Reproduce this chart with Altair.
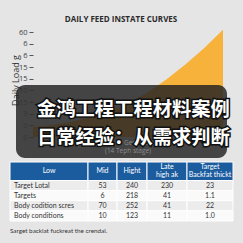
import json
import altair as alt
import pandas as pd

# ---------------- data ----------------
chart_title = "DAILY FEED INSTATE CURVES"
y_axis_title = "Daily Load g"
y_tick_labels_top_down = ["60", "6", "6", "15", "15", "10", "15", "9", "0", "0"]

curve_x = [0, 1, 2, 3, 4, 5, 6, 7, 8, 9, 10]
curve_load = [0.85, 1.0, 1.3, 1.7, 2.2, 2.9, 3.8, 4.9, 6.2, 7.6, 9.2]

overlay_line1 = "金鸿工程工程材料案例"
overlay_line2 = "日常经验：从需求判断"
x_axis_title = "Day of Gestation"
x_axis_sub = "(14 Teph stage)"

table_headers = [["Low"], ["Mid"], ["Hight"], ["Late", "high ak"], ["Target", "Backfat thickt"]]
row_labels = ["Target Lotal", "Targets", "Body codition scres", "Body conditions"]
mid_vals = ["53", "6", "70", "10"]
hight_vals = ["240", "218", "252", "123"]
late_vals = ["230", "41", "41", "11"]
target_vals = ["23", "1.1", "22", "1.0"]
footnote = "Sarget backlat fuckreat the crendal."

# ---------------- layout (pixels) ----------------
col_edges = [10, 88, 117, 147, 187, 233]
header_edges = [162, 180.5]
row_edges = [180.5, 190.6, 200.7, 210.8, 221]
BG = "#e5e5e5"
BLUE = "#1b5c9f"
ORANGE = "#f7b23c"
FONT = "Open Sans"
TFONT = "Lato"

curve_df = pd.DataFrame({"x": curve_x, "load": curve_load})

x_scale = alt.Scale(domain=[0, 10], range=[33, 223], nice=False, zero=False)
y_scale = alt.Scale(domain=[0, 9], range=[137, 32], nice=False, zero=False)

area = alt.Chart(curve_df).mark_area(color=ORANGE, opacity=1).encode(
    x=alt.X("x:Q", scale=x_scale, axis=None),
    y=alt.Y("load:Q", scale=y_scale, axis=None),
)

labels_bottom_up = list(reversed(y_tick_labels_top_down))
label_expr = json.dumps(labels_bottom_up) + "[datum.value]"

axis_layer = alt.Chart(curve_df).mark_point(opacity=0, size=1).encode(
    x=alt.X("x:Q", scale=x_scale, axis=None),
    y=alt.Y(
        "load:Q",
        scale=y_scale,
        axis=alt.Axis(
            values=list(range(10)),
            labelExpr=label_expr,
            domain=False,
            grid=False,
            ticks=True,
            tickSize=4,
            tickColor={"condition": {"test": "datum.value <= 4", "value": "#8a8a8a"}, "value": "#555555"},
            labelColor={"condition": {"test": "datum.value <= 4", "value": "#9a9a9a"}, "value": "#444444"},
            labelPadding=2,
            labelFontSize=7.5,
            labelFont=FONT,
            offset=-33,
            title=y_axis_title,
            titleFont=FONT,
            titleFontSize=9,
            titleFontWeight="normal",
            titleColor="#333333",
            titleX=-18,
            titleY=80,
            titleAngle=270,
            titleAlign="center",
            titleBaseline="middle",
        ),
    ),
)

one = pd.DataFrame({"k": [0]})

title_mark = alt.Chart(pd.DataFrame({"t": [chart_title]})).mark_text(
    font=FONT, fontSize=8, fontWeight="bold", color="#2b2b2b", align="center", baseline="middle"
).encode(x=alt.value(121), y=alt.value(19.5), text="t:N")

box = alt.Chart(one).mark_rect(color="#232323", opacity=0.83, cornerRadius=9).encode(
    x=alt.value(16), x2=alt.value(227), y=alt.value(85), y2=alt.value(158)
)

gray_text = alt.Chart(pd.DataFrame({"t": [x_axis_title, x_axis_sub], "yy": [143, 150.5]})).mark_text(
    font=FONT, fontSize=6.5, color="#8c8c8c", align="center", baseline="middle"
).encode(x=alt.value(128), y=alt.Y("yy:Q", scale=None, axis=None), text="t:N")

cn_df = pd.DataFrame({"t": [overlay_line1, overlay_line2], "yy": [110, 137.5]})
cn_outline = alt.Chart(cn_df).mark_text(
    font="Noto Sans CJK SC", fontSize=19.3, fontWeight="bold", color="#111111",
    stroke="#111111", strokeWidth=3, align="left", baseline="middle"
).encode(x=alt.value(37), y=alt.Y("yy:Q", scale=None, axis=None), text="t:N")
cn_fill = alt.Chart(cn_df).mark_text(
    font="Noto Sans CJK SC", fontSize=19.3, fontWeight="bold", color="#ffffff",
    align="left", baseline="middle"
).encode(x=alt.value(37), y=alt.Y("yy:Q", scale=None, axis=None), text="t:N")

# ---------------- table ----------------
cells = []
texts = []
for c, h in enumerate(table_headers):
    cells.append(dict(x0=col_edges[c], x1=col_edges[c + 1], y0=header_edges[0], y1=header_edges[1],
                      fill=BLUE))
    yc = (header_edges[0] + header_edges[1]) / 2
    n = len(h)
    for i, line in enumerate(h):
        texts.append(dict(t=line, kind="head", col=c,
                          xc=(col_edges[c] + col_edges[c + 1]) / 2,
                          yc=yc + (i - (n - 1) / 2) * 8))
body_cols = [row_labels, mid_vals, hight_vals, late_vals, target_vals]
for r in range(len(row_labels)):
    fill = "#ececec" if r % 2 == 0 else "#fafafa"
    for c in range(5):
        cells.append(dict(x0=col_edges[c], x1=col_edges[c + 1], y0=row_edges[r], y1=row_edges[r + 1],
                          fill=fill))
        texts.append(dict(t=body_cols[c][r], kind="body", col=c,
                          xc=(col_edges[c] + col_edges[c + 1]) / 2 if c > 0 else col_edges[c] + 4,
                          yc=(row_edges[r] + row_edges[r + 1]) / 2 + 0.3))
cells_df = pd.DataFrame(cells)
texts_df = pd.DataFrame(texts)

cell_rects = alt.Chart(cells_df).mark_rect(stroke="#ffffff", strokeWidth=1).encode(
    x=alt.X("x0:Q", scale=None, axis=None), x2="x1:Q",
    y=alt.Y("y0:Q", scale=None, axis=None), y2="y1:Q",
    fill=alt.Fill("fill:N", scale=None),
)

head_text = alt.Chart(texts_df).transform_filter("datum.kind == 'head'").mark_text(
    font=TFONT, fontSize=7, color="#ffffff", align="center", baseline="middle"
).encode(x=alt.X("xc:Q", scale=None, axis=None), y=alt.Y("yc:Q", scale=None, axis=None), text="t:N")

body_center = alt.Chart(texts_df).transform_filter("datum.kind == 'body' && datum.col > 0").mark_text(
    font=TFONT, fontSize=7, color="#333333", align="center", baseline="middle"
).encode(x=alt.X("xc:Q", scale=None, axis=None), y=alt.Y("yc:Q", scale=None, axis=None), text="t:N")

body_left = alt.Chart(texts_df).transform_filter("datum.kind == 'body' && datum.col == 0").mark_text(
    font=TFONT, fontSize=7, color="#333333", align="left", baseline="middle"
).encode(x=alt.X("xc:Q", scale=None, axis=None), y=alt.Y("yc:Q", scale=None, axis=None), text="t:N")

foot = alt.Chart(pd.DataFrame({"t": [footnote]})).mark_text(
    font=TFONT, fontSize=6.3, color="#333333", align="left", baseline="middle"
).encode(x=alt.value(10), y=alt.value(231), text="t:N")

chart = alt.layer(
    area, title_mark, box, axis_layer, gray_text, cn_outline, cn_fill,
    cell_rects, head_text, body_center, body_left, foot,
).resolve_scale(x="independent", y="independent").properties(
    width=243, height=243, autosize=alt.AutoSizeParams(type="none"), padding=0, background=BG
).configure_view(stroke=None)

chart.save("out.html", embed_options={"renderer": "svg", "actions": False})
